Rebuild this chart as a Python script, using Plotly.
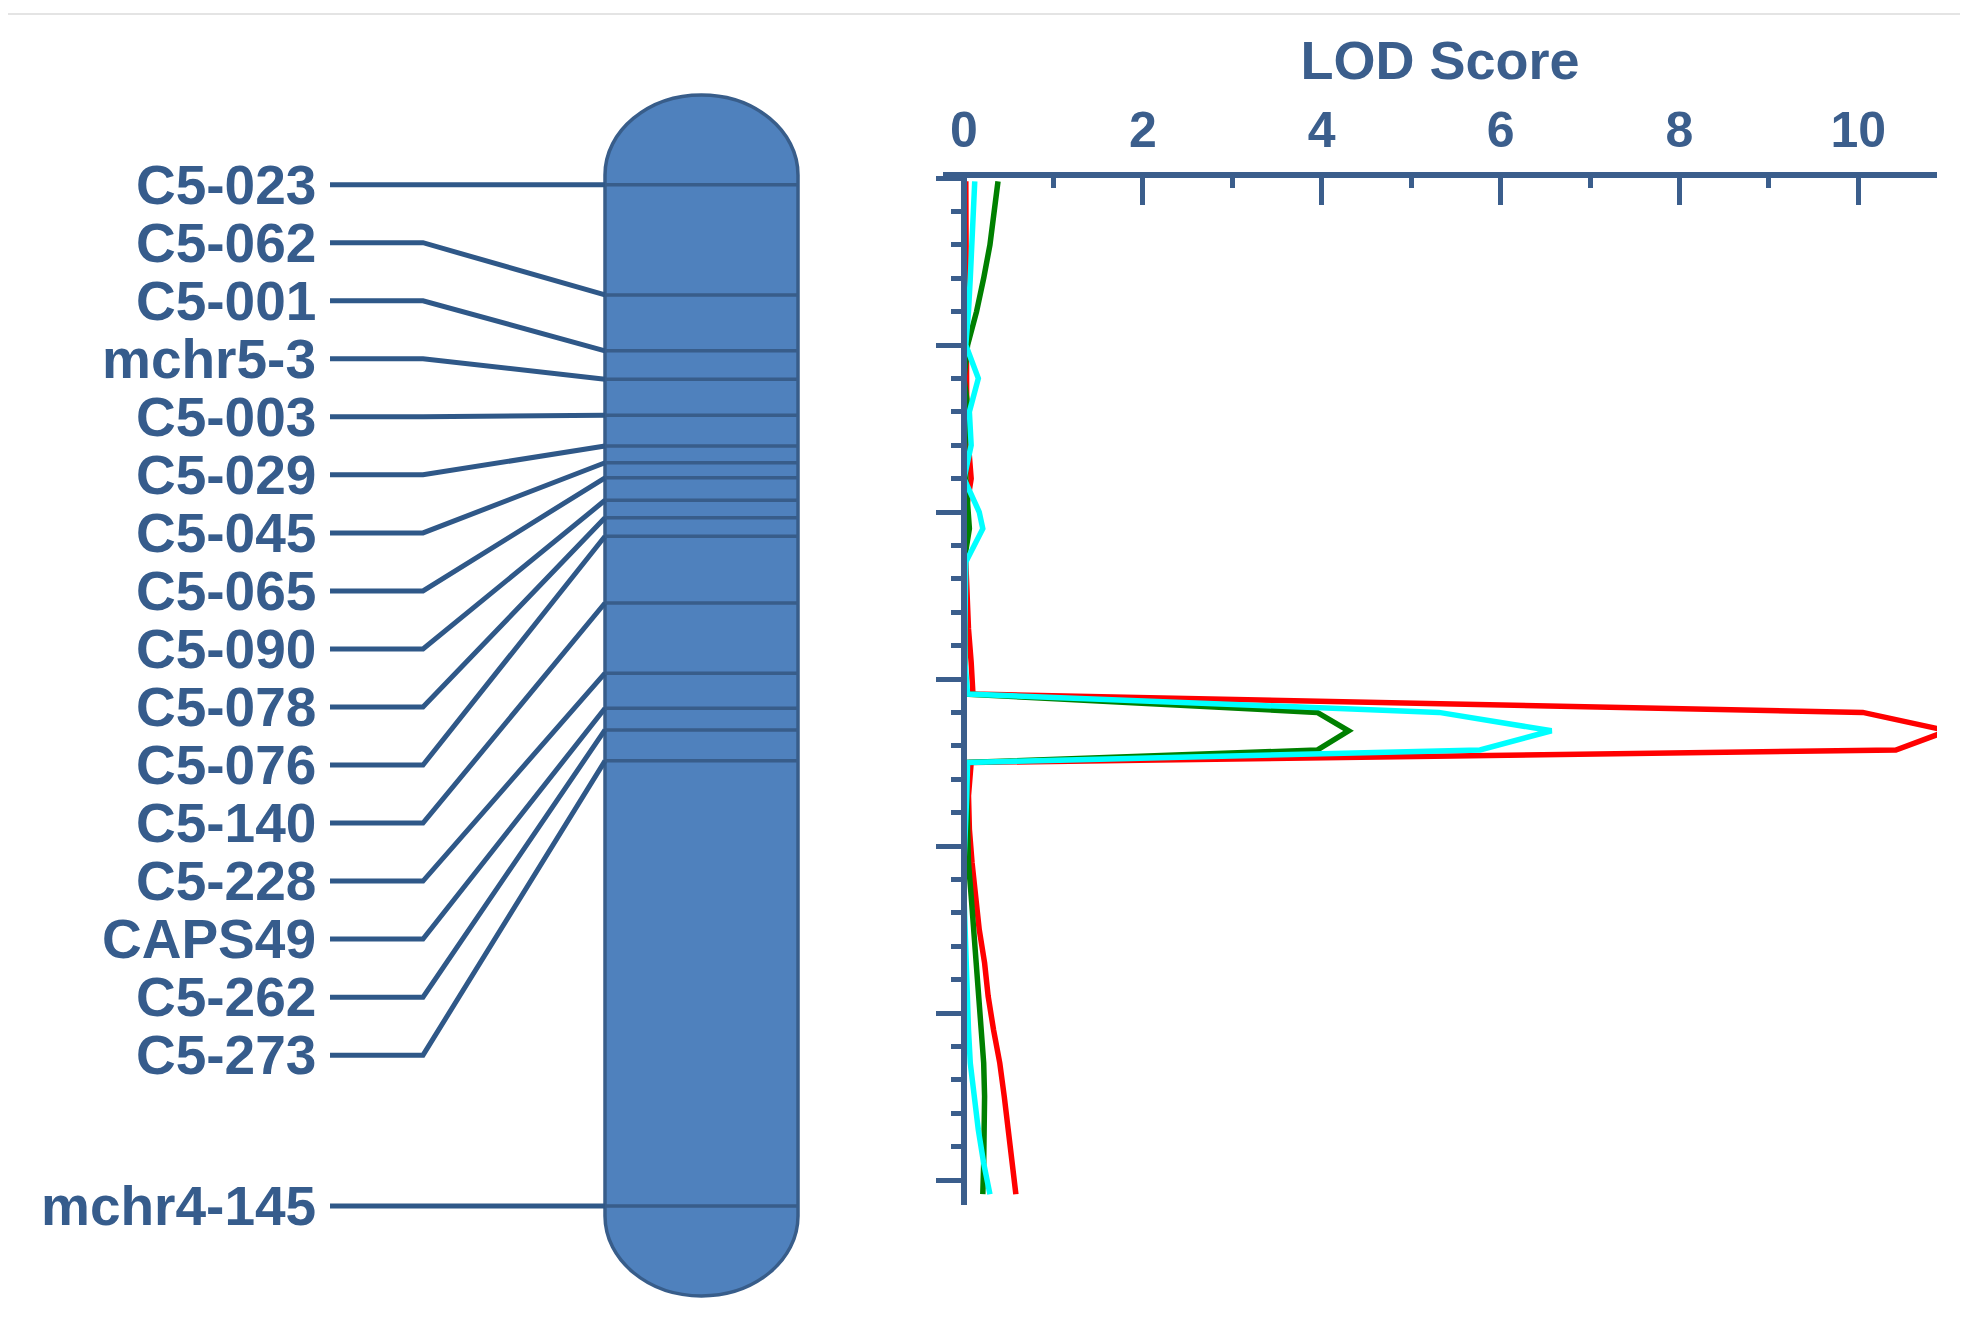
import plotly.graph_objects as go

# ---------------- data ----------------
markers = ["C5-023", "C5-062", "C5-001", "mchr5-3", "C5-003", "C5-029", "C5-045",
           "C5-065", "C5-090", "C5-078", "C5-076", "C5-140", "C5-228", "CAPS49",
           "C5-262", "C5-273", "mchr4-145"]
# marker positions on the chromosome (cM)
marker_cm = [0.8, 14.0, 20.7, 24.1, 28.4, 32.1, 34.1, 35.9, 38.6, 40.7, 42.9,
             50.9, 59.3, 63.5, 66.1, 69.8, 123.1]
# positions of the marker labels (cM, spread out for legibility)
label_cm = [0.8, 7.75, 14.7, 21.65, 28.6, 35.55, 42.5, 49.45, 56.4, 63.35, 70.3,
            77.25, 84.2, 91.15, 98.1, 105.05, 123.1]

# LOD profiles along the chromosome
lod_pos = [0.4, 4, 8, 12, 16, 20, 24, 28, 32, 36, 40, 42, 46, 50, 54, 58, 61.8,
           64.0, 66.2, 68.5, 70.0, 74, 78, 82, 86, 90, 94, 98, 102, 106, 110, 114,
           118, 121.7]
lod_red = [0.02, 0.02, 0.02, 0.02, 0.02, 0.03, 0.03, 0.03, 0.05, 0.08, 0.02, 0.0,
           0.02, 0.03, 0.05, 0.08, 0.1, 10.05, 11.0, 10.42, 0.08, 0.05, 0.06, 0.09,
           0.13, 0.17, 0.23, 0.27, 0.33, 0.4, 0.45, 0.49, 0.53, 0.58]
lod_green = [0.38, 0.34, 0.29, 0.22, 0.14, 0.04, 0.0, 0.05, 0.01, 0.02, 0.04, 0.06,
             0.0, 0.01, 0.01, 0.01, 0.02, 3.95, 4.3, 3.95, 0.03, 0.03, 0.04, 0.05,
             0.08, 0.11, 0.13, 0.17, 0.19, 0.22, 0.23, 0.23, 0.22, 0.21]
lod_cyan = [0.12, 0.1, 0.09, 0.07, 0.05, 0.02, 0.16, 0.06, 0.08, 0.0, 0.17, 0.21,
            0.02, 0.01, 0.01, 0.01, 0.04, 5.31, 6.57, 5.77, 0.04, 0.03, 0.01, 0.0,
            0.0, 0.01, 0.02, 0.03, 0.05, 0.07, 0.11, 0.16, 0.22, 0.29]

lod_ticks = [0, 2, 4, 6, 8, 10]

# ---------------- layout constants ----------------
W, H = 1968, 1320
PX_PER_CM = 8.35
AXIS_TOP_PX = 170
AXIS_BOTTOM_PX = 1197
CM_MAX = (AXIS_BOTTOM_PX - AXIS_TOP_PX) / PX_PER_CM

CHR_L, CHR_R = 597, 790
CHR_CX = (CHR_L + CHR_R) / 2
CHR_RX = (CHR_R - CHR_L) / 2
CAP_CM = 80 / PX_PER_CM
CHR_TOP = -0.36
CHR_BOT = 124.3
LABEL_X = 310
LEAD_X0, LEAD_X1 = 322, 415

BLUE_FILL = "#4F81BD"
BLUE_DARK = "#385D8A"
LEAD_BLUE = "#2F5888"
TEXT_BLUE = "#365C8C"
AXIS_BLUE = "#3B5E8C"
FONT = "Liberation Sans, Arial, sans-serif"

fig = go.Figure()

# leader lines from labels to chromosome
lx, ly = [], []
for lc, mc in zip(label_cm, marker_cm):
    lx += [LEAD_X0, LEAD_X1, CHR_L, None]
    ly += [lc, lc, mc, None]
fig.add_trace(go.Scatter(x=lx, y=ly, mode="lines", xaxis="x", yaxis="y",
                         line=dict(color=LEAD_BLUE, width=5), hoverinfo="skip",
                         showlegend=False))

# band lines across chromosome
bx, by = [], []
for mc in marker_cm:
    bx += [CHR_L, CHR_R, None]
    by += [mc, mc, None]
fig.add_trace(go.Scatter(x=bx, y=by, mode="lines", xaxis="x", yaxis="y",
                         line=dict(color=BLUE_DARK, width=3.5), hoverinfo="skip",
                         showlegend=False))

# LOD curves
for vals, col in [(lod_red, "#FF0000"), (lod_green, "#008000"), (lod_cyan, "#00FFFF")]:
    fig.add_trace(go.Scatter(x=vals, y=lod_pos, mode="lines", xaxis="x2", yaxis="y2",
                             line=dict(color=col, width=5.5), hoverinfo="skip",
                             showlegend=False, cliponaxis=False))

# chromosome body (rounded ends)
k = 0.5523
t, b = CHR_TOP, CHR_BOT
path = (f"M {CHR_L},{t} "
        f"C {CHR_L},{t - k*CAP_CM} {CHR_CX - k*CHR_RX},{t - CAP_CM} {CHR_CX},{t - CAP_CM} "
        f"C {CHR_CX + k*CHR_RX},{t - CAP_CM} {CHR_R},{t - k*CAP_CM} {CHR_R},{t} "
        f"L {CHR_R},{b} "
        f"C {CHR_R},{b + k*CAP_CM} {CHR_CX + k*CHR_RX},{b + CAP_CM} {CHR_CX},{b + CAP_CM} "
        f"C {CHR_CX - k*CHR_RX},{b + CAP_CM} {CHR_L},{b + k*CAP_CM} {CHR_L},{b} Z")
shapes = [
    dict(type="path", path=path, xref="x", yref="y", layer="below",
         fillcolor=BLUE_FILL, line=dict(color=BLUE_DARK, width=3.5)),
    dict(type="line", xref="paper", yref="paper", x0=0, x1=1,
         y0=1 - 6 / H, y1=1 - 6 / H, line=dict(color="#E4E4E4", width=2)),
]

annotations = []
for name, lc in zip(markers, label_cm):
    annotations.append(dict(x=LABEL_X, y=lc, xref="x", yref="y", text=name,
                            showarrow=False, xanchor="right", yanchor="middle",
                            font=dict(family=FONT, size=55, color=TEXT_BLUE, weight="bold")))

fig.update_layout(
    width=W, height=H, margin=dict(l=0, r=0, t=0, b=0),
    paper_bgcolor="white", plot_bgcolor="rgba(0,0,0,0)",
    shapes=shapes, annotations=annotations,
    xaxis=dict(domain=[0, 1], range=[0, W], visible=False, fixedrange=True),
    yaxis=dict(domain=[0, 1], range=[(H - AXIS_TOP_PX) / PX_PER_CM, -AXIS_TOP_PX / PX_PER_CM],
               visible=False, fixedrange=True),
    xaxis2=dict(domain=[935 / W, 1929 / W], range=[-0.235, 10.88], anchor="y2", side="top",
                showline=True, linecolor=AXIS_BLUE, linewidth=6, showgrid=False, zeroline=False,
                ticks="inside", ticklen=27, tickwidth=5, tickcolor=AXIS_BLUE,
                tickvals=lod_ticks, ticktext=[str(v) for v in lod_ticks],
                ticklabelstandoff=5,
                tickfont=dict(family=FONT, size=50, color=AXIS_BLUE, weight="bold"),
                minor=dict(dtick=1, ticks="inside", ticklen=10, tickwidth=5, tickcolor=AXIS_BLUE,
                           showgrid=False),
                title=dict(text="LOD Score", standoff=7,
                           font=dict(family=FONT, size=54, color=AXIS_BLUE, weight="bold"))),
    yaxis2=dict(domain=[1 - AXIS_BOTTOM_PX / H, 1 - AXIS_TOP_PX / H], range=[CM_MAX, 0],
                anchor="free", position=956 / W,
                showline=True, linecolor=AXIS_BLUE, linewidth=6, showgrid=False, zeroline=False,
                ticks="outside", ticklen=25, tickwidth=5, tickcolor=AXIS_BLUE,
                tick0=0, dtick=20, showticklabels=False,
                minor=dict(dtick=4, ticks="outside", ticklen=10, tickwidth=5,
                           tickcolor=AXIS_BLUE, showgrid=False)),
)

fig.write_html("out.html")
